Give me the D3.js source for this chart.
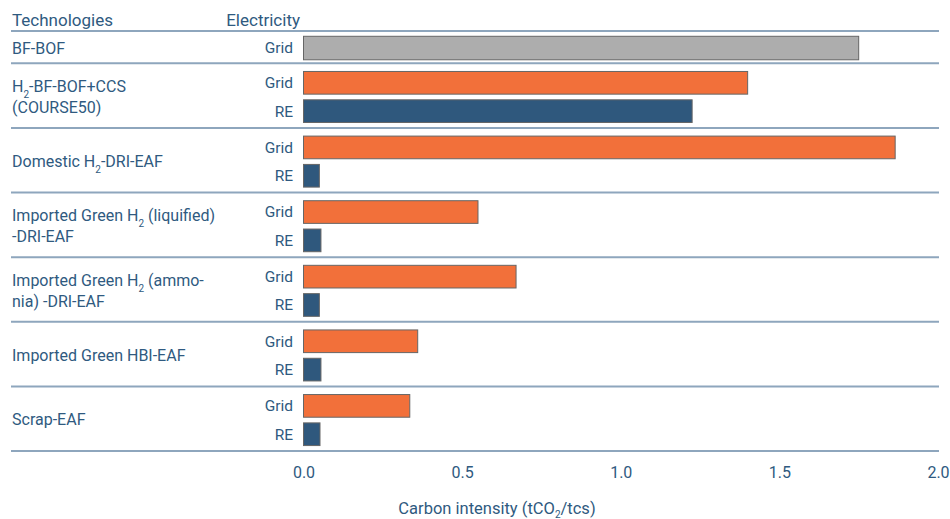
<!DOCTYPE html>
<html>
<head>
<meta charset="utf-8">
<script src="https://cdn.jsdelivr.net/npm/d3@7"></script>
<style>
  body { margin: 0; background: #fff; }
  text { font-family: Roboto, "Open Sans", sans-serif; fill: #2f5a80; }
</style>
</head>
<body>
<div id="chart"></div>
<script>
// technology labels, "_2" marks a subscript 2
const techLines = [
    ["BF-BOF"],
    ["H_2-BF-BOF+CCS", "(COURSE50)"],
    ["Domestic H_2-DRI-EAF"],
    ["Imported Green H_2 (liquified)", "-DRI-EAF"],
    ["Imported Green H_2 (ammo-", "nia) -DRI-EAF"],
    ["Imported Green HBI-EAF"],
    ["Scrap-EAF"]
];
const gridValues = [1.75, 1.40, 1.865, 0.55, 0.67, 0.36, 0.335];
const reValues = [null, 1.225, 0.05, 0.055, 0.05, 0.055, 0.052];
const bf_bofColor = "#adadad";
const xTicks = [0, 0.5, 1.0, 1.5, 2.0];

const width = 950, height = 519;
const svg = d3.select("#chart").append("svg")
    .attr("width", width)
    .attr("height", height);

const x = d3.scaleLinear().domain([0, 2]).range([303.5, 938]);

// build rows: one slot per bar
const groups = [];
let slot = 0;
techLines.forEach((lines, i) => {
    const bars = [{key: "Grid", value: gridValues[i]}];
    if (reValues[i] != null) bars.push({key: "RE", value: reValues[i]});
    groups.push({i, lines, bars, start: slot});
    slot += bars.length;
});

const ySlot = d3.scaleLinear().domain([0, slot]).range([31, 451]);

// header
svg.append("text").attr("x", 12).attr("y", 26)
    .style("font-size", "17px").text("Technologies");
svg.append("text").attr("x", 300).attr("y", 26)
    .attr("text-anchor", "end")
    .style("font-size", "17px").text("Electricity");

// separators
const sepY = [ySlot(0)].concat(groups.map(g => ySlot(g.start + g.bars.length)));
svg.selectAll(".sep")
    .data(sepY)
    .enter()
    .append("line")
    .attr("class", "sep")
    .attr("x1", 11).attr("x2", 939)
    .attr("y1", d => d).attr("y2", d => d)
    .style("stroke", "#8ea6bd")
    .style("stroke-width", 2);

function addLabel(sel, str) {
    const parts = str.split("_2");
    parts.forEach((p, k) => {
        if (k > 0) {
            sel.append("tspan").attr("dy", 6).style("font-size", "10px").text("2");
            sel.append("tspan").attr("dy", -6).text(p);
        } else {
            sel.append("tspan").text(p);
        }
    });
}

groups.forEach(g => {
    const y0 = ySlot(g.start), y1 = ySlot(g.start + g.bars.length);
    const inner = d3.scaleBand()
        .domain(g.bars.map(b => b.key))
        .range([y0, y1])
        .paddingInner(0.2)
        .paddingOuter(g.bars.length === 1 ? 0.15 : 0.24)
        .align(0.6);

    const gg = svg.append("g");

    gg.selectAll(".bar")
        .data(g.bars)
        .enter()
        .append("rect")
        .attr("class", "bar")
        .attr("x", x(0))
        .attr("y", d => inner(d.key))
        .attr("height", inner.bandwidth())
        .attr("width", d => x(d.value) - x(0))
        .style("fill", d => g.i === 0 ? bf_bofColor : (d.key === "Grid" ? "#f2703a" : "#2f587d"))
        .style("stroke", "#666")
        .style("stroke-width", 1);

    gg.selectAll(".elab")
        .data(g.bars)
        .enter()
        .append("text")
        .attr("x", 293)
        .attr("y", d => inner(d.key) + inner.bandwidth() / 2)
        .attr("dy", ".35em")
        .attr("text-anchor", "end")
        .style("font-size", "15.5px")
        .text(d => d.key);

    const cy = (y0 + y1) / 2 + 1;
    g.lines.forEach((line, k) => {
        const off = g.lines.length === 1 ? 0 : (k === 0 ? -10.5 : 11);
        const t = gg.append("text")
            .attr("x", 12)
            .attr("y", cy + off)
            .attr("dy", ".35em")
            .style("font-size", "16px");
        addLabel(t, line);
    });
});

// x axis
const xAxis = d3.axisBottom(x)
    .tickValues(xTicks)
    .tickFormat(d3.format(".1f"))
    .tickSize(0)
    .tickPadding(16);

const ax = svg.append("g")
    .attr("transform", "translate(0," + 451 + ")")
    .call(xAxis);
ax.select(".domain").remove();
ax.selectAll("text")
    .style("font-size", "16px")
    .style("font-family", "Roboto, sans-serif")
    .style("fill", "#2f5a80");

const title = svg.append("text")
    .attr("x", 497)
    .attr("y", 514)
    .attr("text-anchor", "middle")
    .style("font-size", "16.5px");
title.append("tspan").text("Carbon intensity (tCO");
title.append("tspan").attr("dy", 4).style("font-size", "10px").text("2");
title.append("tspan").attr("dy", -4).text("/tcs)");
</script>
</body>
</html>
